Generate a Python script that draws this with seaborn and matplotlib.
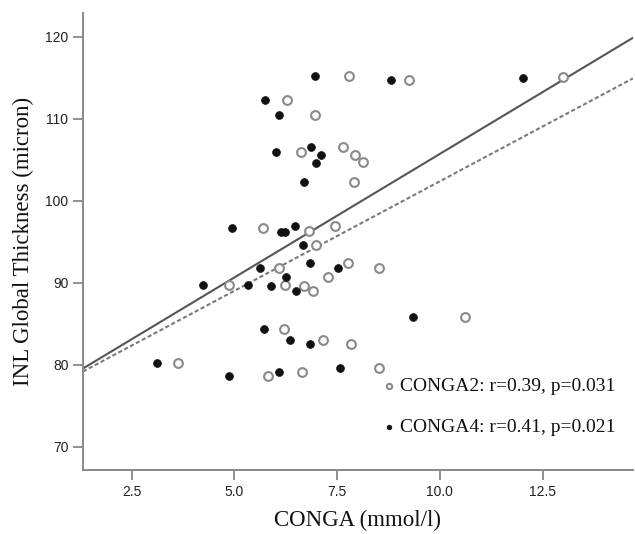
import pandas as pd
import seaborn as sns
import matplotlib.pyplot as plt

sns.set_theme(style="ticks")
plt.rcParams['font.family'] = ['Liberation Serif', 'DejaVu Serif']

# CONGA2 (open circles)
conga2_x = [7.79, 12.99, 9.25, 6.28, 6.96, 7.65, 6.62, 7.93, 8.13, 7.92,
            7.45, 5.69, 6.81, 6.98, 7.76, 6.09, 8.52, 7.28, 4.87, 6.23,
            6.69, 6.91, 10.61, 6.21, 7.16, 7.83, 3.63, 8.52, 6.65, 5.81]
conga2_y = [115.26, 115.14, 114.77, 112.33, 110.5, 106.56, 105.95, 105.55, 104.7, 102.3,
            96.97, 96.73, 96.29, 94.62, 92.46, 91.85, 91.85, 90.71, 89.7, 89.7,
            89.58, 89.04, 85.87, 84.41, 83.03, 82.58, 80.19, 79.58, 79.1, 78.61]

# CONGA4 (filled circles)
conga4_x = [6.95, 12.02, 8.80, 5.74, 6.09, 6.86, 6.02, 7.11, 6.99, 6.69,
            6.48, 4.94, 6.14, 6.24, 6.68, 6.85, 5.62, 7.53, 6.25, 4.24,
            5.33, 5.88, 6.51, 9.35, 5.71, 6.35, 6.85, 3.12, 7.56, 6.08, 4.86]
conga4_y = [115.26, 115.01, 114.77, 112.33, 110.5, 106.53, 105.95, 105.55, 104.65, 102.26,
            96.97, 96.73, 96.2, 96.2, 94.58, 92.46, 91.78, 91.81, 90.68, 89.7,
            89.7, 89.58, 89.04, 85.87, 84.41, 83.03, 82.58, 80.19, 79.66, 79.1, 78.61]

labels = ["CONGA2: r=0.39, p=0.031", "CONGA4: r=0.41, p=0.021"]
x_ticks = [2.5, 5.0, 7.5, 10.0, 12.5]
y_ticks = [70, 80, 90, 100, 110, 120]

df = pd.concat([
    pd.DataFrame({"conga": conga2_x, "inl": conga2_y, "group": labels[0]}),
    pd.DataFrame({"conga": conga4_x, "inl": conga4_y, "group": labels[1]}),
])

fig = plt.figure(figsize=(6.35, 5.34), dpi=100)
ax = fig.add_axes([0.1307, 0.1199, 0.866, 0.855])
ax.set_xlim(1.315, 14.7)
ax.set_ylim(67.18, 122.87)

d2 = df[df.group == labels[0]]
d4 = df[df.group == labels[1]]

# fit lines (span the whole x range)
sns.regplot(ax=ax, data=d2, x="conga", y="inl", scatter=False, ci=None, truncate=False,
            line_kws=dict(color="#7a7a7a", lw=1.5, ls=(0, (2, 1.2))))
sns.regplot(ax=ax, data=d4, x="conga", y="inl", scatter=False, ci=None, truncate=False,
            line_kws=dict(color="#555555", lw=1.5))

sns.scatterplot(ax=ax, data=d2, x="conga", y="inl", s=40, marker="o",
                facecolor="white", edgecolor="#8a8a8a", linewidth=1.5, label=labels[0], zorder=3)
sns.scatterplot(ax=ax, data=d4, x="conga", y="inl", s=32, marker="o",
                color="#111111", edgecolor="#111111", linewidth=0.5, label=labels[1], zorder=3)

ax.set_xticks(x_ticks)
ax.set_xticklabels([f"{v:.1f}" for v in x_ticks])
ax.set_yticks(y_ticks)
ax.set_yticklabels([str(v) for v in y_ticks])
ax.tick_params(axis="both", length=7, width=1.3, color="#888888", labelsize=10, labelcolor="#222222")
for lbl in ax.get_xticklabels() + ax.get_yticklabels():
    lbl.set_fontfamily("Liberation Sans")

for s in ["top", "right"]:
    ax.spines[s].set_visible(False)
for s in ["left", "bottom"]:
    ax.spines[s].set_color("#888888")
    ax.spines[s].set_linewidth(1.4)

ax.set_xlabel("CONGA (mmol/l)", fontsize=16.5, color="#111111", labelpad=8)
ax.set_ylabel("INL Global Thickness (micron)", fontsize=16.5, color="#111111", labelpad=8)

leg = ax.legend(loc="center left", bbox_to_anchor=(0.545, 0.139), frameon=False,
                fontsize=14, markerscale=0.6, handlelength=0.6, handletextpad=0.3,
                labelspacing=1.2, borderpad=0, borderaxespad=0)
for t in leg.get_texts():
    t.set_color("#111111")

fig.savefig("out.png", dpi=100)
